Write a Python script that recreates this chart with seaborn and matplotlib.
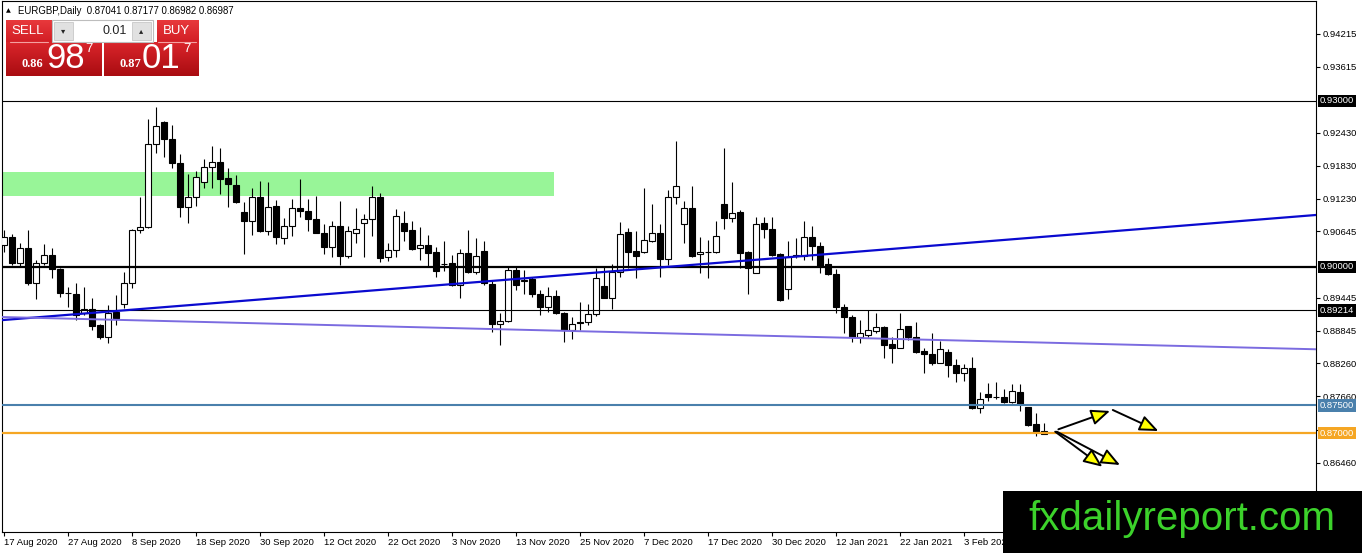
import numpy as np
import pandas as pd
import matplotlib
matplotlib.use("Agg")
import matplotlib.pyplot as plt
import seaborn as sns
from matplotlib.patches import Rectangle, FancyArrowPatch
from matplotlib.transforms import blended_transform_factory
from matplotlib.colors import LinearSegmentedColormap

# ---------------- data (EURGBP daily) ----------------
opens = [0.90398, 0.90542, 0.90073, 0.90343, 0.89711, 0.90073, 0.90217, 0.89964, 0.89530, 0.89512,
         0.89169, 0.89241, 0.88952, 0.88735, 0.89187, 0.89332, 0.89711, 0.90669, 0.90723, 0.92223,
         0.92621, 0.92313, 0.91880, 0.91084, 0.91265, 0.91536, 0.91807, 0.91898, 0.91608, 0.91482,
         0.90994, 0.90831, 0.91265, 0.90651, 0.91103, 0.90524, 0.90742, 0.91066, 0.91012, 0.90868,
         0.90615, 0.90361, 0.90742, 0.90199, 0.90615, 0.90796, 0.90868, 0.91265, 0.90180, 0.90307,
         0.90796, 0.90669, 0.90343, 0.90398, 0.90271, 0.90055, 0.90073, 0.89675, 0.90253, 0.89910,
         0.90289, 0.89693, 0.88970, 0.89024, 0.89946, 0.89740, 0.89783, 0.89512, 0.89277, 0.89476,
         0.89169, 0.88862, 0.89006, 0.89006, 0.89151, 0.89656, 0.89440, 0.89910, 0.90633, 0.90289,
         0.90271, 0.90470, 0.90615, 0.90145, 0.91265, 0.90777, 0.91066, 0.90235, 0.90271, 0.90271,
         0.91139, 0.90886, 0.90994, 0.90271, 0.89892, 0.90796, 0.90687, 0.90235, 0.89602, 0.90199,
         0.90199, 0.90542, 0.90380, 0.90055, 0.89874, 0.89277, 0.89096, 0.88735, 0.88771, 0.88844,
         0.88916, 0.88609, 0.88536, 0.88934, 0.88735, 0.88482, 0.88428, 0.88265, 0.88464, 0.88229,
         0.88084, 0.88175, 0.87452, 0.87705, 0.87651, 0.87651, 0.87560, 0.87741, 0.87470, 0.87163,
         0.87041]
highs = [0.90669, 0.90597, 0.90434, 0.90669, 0.90127, 0.90416, 0.90343, 0.89982, 0.89638, 0.89711,
         0.89638, 0.89440, 0.88970, 0.89314, 0.89494, 0.89910, 0.90687, 0.91265, 0.92674, 0.92891,
         0.92640, 0.92567, 0.92042, 0.91681, 0.91735, 0.91952, 0.92187, 0.92150, 0.91789, 0.91663,
         0.91175, 0.91427, 0.91554, 0.91536, 0.91211, 0.90886, 0.91229, 0.91590, 0.91229, 0.91284,
         0.90777, 0.90831, 0.91193, 0.90742, 0.91066, 0.90958, 0.91464, 0.91338, 0.90434, 0.91048,
         0.91012, 0.90831, 0.90723, 0.90579, 0.90361, 0.90470, 0.90217, 0.90325, 0.90669, 0.90524,
         0.90470, 0.89747, 0.89169, 0.90000, 0.90000, 0.89946, 0.89819, 0.89584, 0.89638, 0.89584,
         0.89187, 0.89096, 0.89367, 0.89332, 0.89982, 0.90000, 0.90055, 0.90814, 0.90705, 0.90651,
         0.91427, 0.91139, 0.90777, 0.91392, 0.92277, 0.91193, 0.91464, 0.90542, 0.90488, 0.90831,
         0.92150, 0.91536, 0.91030, 0.90289, 0.90903, 0.90903, 0.90903, 0.90253, 0.90470, 0.90524,
         0.90831, 0.90742, 0.90452, 0.90163, 0.89964, 0.89332, 0.89133, 0.89042, 0.89223, 0.89169,
         0.88934, 0.88735, 0.89169, 0.88934, 0.89006, 0.88536, 0.88807, 0.88663, 0.88518, 0.88337,
         0.88247, 0.88374, 0.87741, 0.87904, 0.87922, 0.87795, 0.87886, 0.87886, 0.87470, 0.87362,
         0.87177]
lows = [0.90271, 0.90037, 0.90000, 0.89675, 0.89421, 0.90037, 0.89801, 0.89458, 0.89277, 0.89042,
        0.89133, 0.88862, 0.88699, 0.88627, 0.88952, 0.89259, 0.89620, 0.90615, 0.90705, 0.92060,
        0.91988, 0.91789, 0.90903, 0.90796, 0.91103, 0.91427, 0.91427, 0.91320, 0.91084, 0.91157,
        0.90235, 0.90579, 0.90633, 0.90579, 0.90416, 0.90416, 0.90561, 0.90903, 0.90651, 0.90615,
        0.90235, 0.90180, 0.90037, 0.90163, 0.90434, 0.90180, 0.90561, 0.90091, 0.90109, 0.90180,
        0.90470, 0.90307, 0.90127, 0.90000, 0.89819, 0.89928, 0.89656, 0.89440, 0.89892, 0.89874,
        0.89675, 0.88826, 0.88591, 0.89006, 0.89584, 0.89512, 0.89458, 0.89133, 0.89187, 0.89151,
        0.88645, 0.88699, 0.88862, 0.88952, 0.89115, 0.89440, 0.89241, 0.89819, 0.89982, 0.89801,
        0.90253, 0.90452, 0.89819, 0.90037, 0.91139, 0.90434, 0.90180, 0.89892, 0.89801, 0.90253,
        0.90687, 0.90814, 0.89982, 0.89512, 0.89892, 0.90524, 0.90199, 0.89385, 0.89421, 0.90163,
        0.90127, 0.90127, 0.89892, 0.89856, 0.89169, 0.88807, 0.88645, 0.88627, 0.88735, 0.88807,
        0.88356, 0.88265, 0.88536, 0.88681, 0.88446, 0.88084, 0.88229, 0.88265, 0.88012, 0.87921,
        0.87940, 0.87434, 0.87362, 0.87579, 0.87615, 0.87542, 0.87542, 0.87398, 0.87127, 0.86946,
        0.86982]
closes = [0.90542, 0.90073, 0.90343, 0.89711, 0.90073, 0.90217, 0.89964, 0.89530, 0.89525, 0.89133,
          0.89241, 0.88934, 0.88735, 0.89169, 0.89078, 0.89711, 0.90669, 0.90723, 0.92223, 0.92549,
          0.92313, 0.91880, 0.91084, 0.91265, 0.91627, 0.91807, 0.91898, 0.91590, 0.91500, 0.91175,
          0.90831, 0.91265, 0.90651, 0.91084, 0.90542, 0.90742, 0.91066, 0.91012, 0.90868, 0.90615,
          0.90361, 0.90742, 0.90199, 0.90651, 0.90687, 0.90868, 0.91265, 0.90163, 0.90307, 0.90922,
          0.90651, 0.90325, 0.90398, 0.90253, 0.89928, 0.90050, 0.89675, 0.90253, 0.89910, 0.90199,
          0.89711, 0.88970, 0.89024, 0.89946, 0.89675, 0.89760, 0.89512, 0.89277, 0.89476, 0.89169,
          0.88862, 0.88970, 0.88988, 0.89151, 0.89801, 0.89440, 0.89910, 0.90597, 0.90271, 0.90199,
          0.90488, 0.90615, 0.90145, 0.91265, 0.91464, 0.91066, 0.90199, 0.90271, 0.90276, 0.90561,
          0.90886, 0.90976, 0.90253, 0.89982, 0.90777, 0.90687, 0.90217, 0.89404, 0.90180, 0.90217,
          0.90542, 0.90380, 0.90018, 0.89874, 0.89277, 0.89096, 0.88735, 0.88807, 0.88862, 0.88916,
          0.88591, 0.88536, 0.88880, 0.88735, 0.88464, 0.88428, 0.88265, 0.88518, 0.88229, 0.88084,
          0.88175, 0.87452, 0.87615, 0.87651, 0.87646, 0.87560, 0.87759, 0.87524, 0.87145, 0.87018,
          0.86987]

date_labels = ["17 Aug 2020", "27 Aug 2020", "8 Sep 2020", "18 Sep 2020", "30 Sep 2020",
               "12 Oct 2020", "22 Oct 2020", "3 Nov 2020", "13 Nov 2020", "25 Nov 2020",
               "7 Dec 2020", "17 Dec 2020", "30 Dec 2020", "12 Jan 2021", "22 Jan 2021",
               "3 Feb 2021"]
date_label_step = 8

ytick_values = [0.94215, 0.93615, 0.92430, 0.91830, 0.91230, 0.90645, 0.89445,
                0.88845, 0.88260, 0.87660, 0.87060, 0.86460]

level_values = [0.93000, 0.90000, 0.89214, 0.87500, 0.87000]
level_colors = ["black", "black", "black", "#4A80AC", "#F5A623"]
level_widths = [0.8, 1.6, 0.8, 1.5, 1.6]

# trend lines: x (bar index) and price at both ends
blue_trend = ([-0.25, 164.0], [0.89040, 0.90940])
purple_trend = ([-0.25, 164.0], [0.89096, 0.88513])

# supply zone rectangle
zone_x = [-0.25, 68.75]
zone_y = [0.91283, 0.91717]

# projection arrows (start idx, start price, end idx, end price)
arrows = [(131.8, 0.87067, 138.25, 0.87398),
          (138.6, 0.87416, 144.3, 0.87036),
          (131.4, 0.87024, 137.3, 0.86391),
          (131.6, 0.87024, 139.5, 0.86422)]

# ---------------- figure ----------------
sns.set_style("white")
plt.rcParams['font.family'] = ['Liberation Sans', 'DejaVu Sans']

W, H = 1362, 553
fig = plt.figure(figsize=(W / 100, H / 100), dpi=100)
ax = fig.add_axes([2 / W, 1 - 532 / H, 1314 / W, 531 / H])

df = pd.DataFrame({"o": opens, "h": highs, "l": lows, "c": closes})
df["i"] = np.arange(len(df))
up = df["c"] >= df["o"]

ax.add_patch(Rectangle((zone_x[0], zone_y[0]), zone_x[1] - zone_x[0], zone_y[1] - zone_y[0],
                       facecolor="#98F598", edgecolor="none", zorder=1))

ax.vlines(df["i"], df["l"], df["h"], color="black", linewidth=0.8, zorder=2)
body_bottom = np.minimum(df["o"], df["c"])
body_h = (df["c"] - df["o"]).abs()
ax.bar(df["i"], body_h, bottom=body_bottom, width=0.66,
       color=np.where(up, "white", "black"), edgecolor="black", linewidth=0.8, zorder=3)

for v, col, lw in zip(level_values, level_colors, level_widths):
    ax.axhline(v, color=col, linewidth=lw, zorder=4)

sns.lineplot(x=blue_trend[0], y=blue_trend[1], color="#0A0ACF", linewidth=1.6, ax=ax, zorder=5)
sns.lineplot(x=purple_trend[0], y=purple_trend[1], color="#7B6BE0", linewidth=1.4, ax=ax, zorder=5)

for x0, y0, x1, y1 in arrows:
    ax.add_patch(FancyArrowPatch((x0, y0), (x1, y1),
                                 arrowstyle="-|>,head_length=0.95,head_width=0.4",
                                 mutation_scale=12, facecolor="#FFFF00", edgecolor="black",
                                 linewidth=1.4, shrinkA=0, shrinkB=0, zorder=6))

ax.set_xlim(-0.25, 164.0)
ax.set_ylim(0.85211, 0.94807)

# x axis
xt = np.arange(len(date_labels)) * date_label_step
ax.set_xticks(xt)
ax.set_xticklabels(date_labels)
for lbl in ax.get_xticklabels():
    lbl.set_horizontalalignment("left")
ax.tick_params(axis="x", direction="out", length=3, width=0.8, pad=1.5, labelsize=6.8,
               color="black", labelcolor="black", bottom=True)

# y axis on the right
ax.yaxis.tick_right()
ax.set_yticks(ytick_values)
ax.set_yticklabels([f"{v:.5f}" for v in ytick_values])
ax.tick_params(axis="y", direction="out", length=3, width=0.8, pad=1.5, labelsize=6.8,
               color="black", labelcolor="black", right=True, left=False)

for s in ax.spines.values():
    s.set_color("black")
    s.set_linewidth(0.8)
ax.set_xlabel("")
ax.set_ylabel("")

trans = blended_transform_factory(ax.transAxes, ax.transData)
for v, col in zip(level_values, level_colors):
    ax.text(1.0030, v, f"{v:.5f}", transform=trans, ha="left", va="center", fontsize=6.8,
            color="white", clip_on=False, zorder=10,
            bbox=dict(boxstyle="square,pad=0.18", facecolor=col, edgecolor="none"))

# ---------------- overlay (header, trade panel, watermark) ----------------
ov = fig.add_axes([0, 0, 1, 1], zorder=20)
ov.set_xlim(0, W)
ov.set_ylim(H, 0)
ov.axis("off")

ov.text(8.5, 10.5, "▲", fontsize=4.5, ha="center", va="center", color="black",
        family=["DejaVu Sans"])
ov.text(18, 10.5, f"EURGBP,Daily  {opens[-1]:.5f} {highs[-1]:.5f} {lows[-1]:.5f} {closes[-1]:.5f}",
        fontsize=6.9, ha="left", va="center", color="black")

grad_top = LinearSegmentedColormap.from_list("rt", ["#E8393C", "#D21E25"])
grad_low = LinearSegmentedColormap.from_list("rl", ["#DA252B", "#A90C11"])
g = np.linspace(0, 1, 64).reshape(-1, 1)


def red_box(x0, y0, w, h, cmap):
    ov.imshow(g, cmap=cmap, aspect="auto", extent=(x0, x0 + w, y0 + h, y0),
              interpolation="bilinear", zorder=1)


red_box(6, 20, 46, 22, grad_top)
red_box(157, 20, 42, 22, grad_top)
red_box(6, 42, 96, 34, grad_low)
red_box(104, 42, 95, 34, grad_low)
ov.set_xlim(0, W)
ov.set_ylim(H, 0)
ov.plot([10, 48], [42, 42], color="#F4A0A0", linewidth=0.8, zorder=2)
ov.plot([158, 196], [42, 42], color="#F4A0A0", linewidth=0.8, zorder=2)
ov.add_patch(Rectangle((52, 20), 101, 22, facecolor="white", edgecolor="#BDBDBD",
                       linewidth=0.8, zorder=2))
ov.add_patch(Rectangle((54, 22), 19, 18, facecolor="#E1E1E1", edgecolor="#C8C8C8",
                       linewidth=0.6, zorder=3))
ov.add_patch(Rectangle((132, 22), 19, 18, facecolor="#E1E1E1", edgecolor="#C8C8C8",
                       linewidth=0.6, zorder=3))
ov.text(63.5, 31, "▾", fontsize=6, ha="center", va="center", family=["DejaVu Sans"], zorder=4)
ov.text(141.5, 31, "▴", fontsize=6, ha="center", va="center", family=["DejaVu Sans"], zorder=4)
ov.text(127, 31, "0.01", fontsize=9, ha="right", va="center", color="#222222", zorder=4)
ov.text(28, 31, "SELL", fontsize=9.5, ha="center", va="center", color="white", zorder=4)
ov.text(176, 31, "BUY", fontsize=9.5, ha="center", va="center", color="white", zorder=4)

big = ["Liberation Sans Narrow", "Liberation Sans"]
serif = ["Liberation Serif", "DejaVu Serif"]
ov.text(32, 64, "0.86", fontsize=9, fontweight="bold", ha="center", va="center", color="white",
        family=serif, zorder=4)
ov.text(65.5, 58.5, "98", fontsize=25, ha="center", va="center", color="white", family=big, zorder=4)
ov.text(88.5, 49, "7", fontsize=9.5, ha="center", va="center", color="white", zorder=4)
ov.text(130, 64, "0.87", fontsize=9, fontweight="bold", ha="center", va="center", color="white",
        family=serif, zorder=4)
ov.text(161, 58.5, "01", fontsize=25, ha="center", va="center", color="white", family=big, zorder=4)
ov.text(186.5, 49, "7", fontsize=9.5, ha="center", va="center", color="white", zorder=4)

ov.add_patch(Rectangle((1003, 491), W - 1003, H - 491, facecolor="black", edgecolor="none", zorder=5))
ov.text(1182, 519, "fxdailyreport.com", fontsize=29, ha="center", va="center", color="#3CD22B",
        zorder=6)

fig.savefig("out.png", dpi=100)
